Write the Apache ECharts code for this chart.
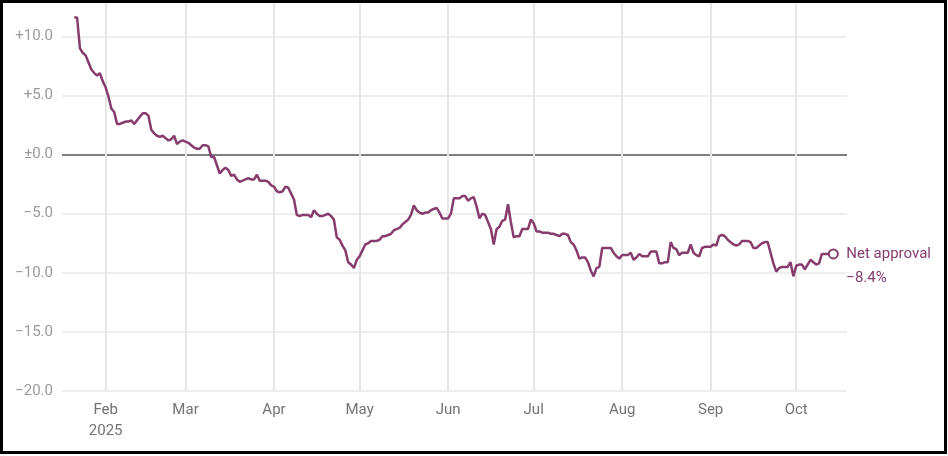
<!DOCTYPE html>
<html>
<head>
<meta charset="utf-8">
<script src="https://cdn.jsdelivr.net/npm/echarts@6/dist/echarts.min.js"></script>
<style>
  html, body { margin: 0; padding: 0; background: #fff; }
  #chart { position: absolute; left: 0; top: 0; width: 948px; height: 456px; }
  #frame { position: absolute; left: 0; top: 0; width: 947px; height: 454px; border: 3px solid #000; box-sizing: border-box; pointer-events: none; }
</style>
</head>
<body>
<div id="chart"></div>
<div id="frame"></div>
<script>
const seriesName = 'Net approval';

const dates = [
  '2025-01-21','2025-01-22','2025-01-23','2025-01-24','2025-01-25','2025-01-26','2025-01-27','2025-01-28','2025-01-29','2025-01-30','2025-01-31',
  '2025-02-01','2025-02-02','2025-02-03','2025-02-04','2025-02-05','2025-02-06','2025-02-07','2025-02-08','2025-02-09','2025-02-10','2025-02-11','2025-02-12','2025-02-13','2025-02-14','2025-02-15','2025-02-16','2025-02-17','2025-02-18','2025-02-19','2025-02-20','2025-02-21','2025-02-22','2025-02-23','2025-02-24','2025-02-25','2025-02-26','2025-02-27','2025-02-28',
  '2025-03-01','2025-03-02','2025-03-03','2025-03-04','2025-03-05','2025-03-06','2025-03-07','2025-03-08','2025-03-09','2025-03-10','2025-03-11','2025-03-12','2025-03-13','2025-03-14','2025-03-15','2025-03-16','2025-03-17','2025-03-18','2025-03-19','2025-03-20','2025-03-21','2025-03-22','2025-03-23','2025-03-24','2025-03-25','2025-03-26','2025-03-27','2025-03-28','2025-03-29','2025-03-30','2025-03-31',
  '2025-04-01','2025-04-02','2025-04-03','2025-04-04','2025-04-05','2025-04-06','2025-04-07','2025-04-08','2025-04-09','2025-04-10','2025-04-11','2025-04-12','2025-04-13','2025-04-14','2025-04-15','2025-04-16','2025-04-17','2025-04-18','2025-04-19','2025-04-20','2025-04-21','2025-04-22','2025-04-23','2025-04-24','2025-04-25','2025-04-26','2025-04-27','2025-04-28','2025-04-29','2025-04-30',
  '2025-05-01','2025-05-02','2025-05-03','2025-05-04','2025-05-05','2025-05-06','2025-05-07','2025-05-08','2025-05-09','2025-05-10','2025-05-11','2025-05-12','2025-05-13','2025-05-14','2025-05-15','2025-05-16','2025-05-17','2025-05-18','2025-05-19','2025-05-20','2025-05-21','2025-05-22','2025-05-23','2025-05-24','2025-05-25','2025-05-26','2025-05-27','2025-05-28','2025-05-29','2025-05-30','2025-05-31',
  '2025-06-01','2025-06-02','2025-06-03','2025-06-04','2025-06-05','2025-06-06','2025-06-07','2025-06-08','2025-06-09','2025-06-10','2025-06-11','2025-06-12','2025-06-13','2025-06-14','2025-06-15','2025-06-16','2025-06-17','2025-06-18','2025-06-19','2025-06-20','2025-06-21','2025-06-22','2025-06-23','2025-06-24','2025-06-25','2025-06-26','2025-06-27','2025-06-28','2025-06-29','2025-06-30',
  '2025-07-01','2025-07-02','2025-07-03','2025-07-04','2025-07-05','2025-07-06','2025-07-07','2025-07-08','2025-07-09','2025-07-10','2025-07-11','2025-07-12','2025-07-13','2025-07-14','2025-07-15','2025-07-16','2025-07-17','2025-07-18','2025-07-19','2025-07-20','2025-07-21','2025-07-22','2025-07-23','2025-07-24','2025-07-25','2025-07-26','2025-07-27','2025-07-28','2025-07-29','2025-07-30','2025-07-31',
  '2025-08-01','2025-08-02','2025-08-03','2025-08-04','2025-08-05','2025-08-06','2025-08-07','2025-08-08','2025-08-09','2025-08-10','2025-08-11','2025-08-12','2025-08-13','2025-08-14','2025-08-15','2025-08-16','2025-08-17','2025-08-18','2025-08-19','2025-08-20','2025-08-21','2025-08-22','2025-08-23','2025-08-24','2025-08-25','2025-08-26','2025-08-27','2025-08-28','2025-08-29','2025-08-30','2025-08-31',
  '2025-09-01','2025-09-02','2025-09-03','2025-09-04','2025-09-05','2025-09-06','2025-09-07','2025-09-08','2025-09-09','2025-09-10','2025-09-11','2025-09-12','2025-09-13','2025-09-14','2025-09-15','2025-09-16','2025-09-17','2025-09-18','2025-09-19','2025-09-20','2025-09-21','2025-09-22','2025-09-23','2025-09-24','2025-09-25','2025-09-26','2025-09-27','2025-09-28','2025-09-29','2025-09-30',
  '2025-10-01','2025-10-02','2025-10-03','2025-10-04','2025-10-05','2025-10-06','2025-10-07','2025-10-08','2025-10-09','2025-10-10','2025-10-11','2025-10-12','2025-10-13','2025-10-14'
];

const netApproval = [
  11.6, 11.6, 9.0, 8.6, 8.4, 7.8, 7.2, 6.9, 6.7, 6.9, 6.2,
  5.7, 4.9, 3.9, 3.6, 2.6, 2.6, 2.7, 2.8, 2.8, 2.9, 2.6, 2.9, 3.2, 3.5, 3.5, 3.3, 2.1, 1.8, 1.6, 1.5, 1.6, 1.4, 1.2, 1.3, 1.6, 0.9, 1.1, 1.2,
  1.1, 1.0, 0.8, 0.6, 0.5, 0.5, 0.8, 0.8, 0.7, -0.2, -0.2, -0.9, -1.6, -1.3, -1.1, -1.3, -1.8, -1.7, -2.1, -2.3, -2.2, -2.1, -2.0, -2.1, -2.1, -1.7, -2.2, -2.2, -2.2, -2.3, -2.6,
  -2.7, -3.1, -3.2, -3.1, -2.7, -2.8, -3.3, -3.8, -5.1, -5.2, -5.1, -5.1, -5.1, -5.3, -4.7, -5.0, -5.2, -5.2, -5.1, -5.0, -5.2, -5.5, -7.0, -7.2, -7.7, -8.1, -9.1, -9.3, -9.6, -8.9,
  -8.6, -8.1, -7.6, -7.5, -7.3, -7.3, -7.3, -7.2, -6.9, -6.9, -6.8, -6.7, -6.4, -6.3, -6.2, -5.9, -5.7, -5.5, -5.1, -4.3, -4.7, -4.9, -5.0, -4.9, -4.9, -4.7, -4.6, -4.5, -4.9, -5.4, -5.4,
  -5.4, -5.0, -3.7, -3.7, -3.7, -3.5, -3.5, -3.9, -3.7, -3.6, -4.4, -5.4, -5.0, -5.1, -5.7, -6.3, -7.6, -6.3, -6.1, -5.6, -5.5, -4.2, -5.7, -7.0, -6.9, -6.9, -6.3, -6.3, -6.3, -5.5,
  -5.8, -6.5, -6.5, -6.6, -6.6, -6.6, -6.7, -6.7, -6.8, -6.9, -6.7, -6.7, -6.8, -7.4, -7.6, -8.1, -8.8, -8.7, -8.7, -9.1, -9.8, -10.3, -9.6, -9.5, -7.9, -7.9, -7.9, -7.9, -8.3, -8.6, -8.8,
  -8.5, -8.5, -8.5, -8.3, -8.9, -8.7, -8.4, -8.6, -8.6, -8.6, -8.2, -8.2, -8.2, -9.2, -9.2, -9.1, -9.1, -7.4, -7.9, -8.0, -8.5, -8.3, -8.3, -8.3, -7.6, -8.3, -8.5, -8.6, -7.9, -7.8, -7.8,
  -7.8, -7.6, -7.7, -6.9, -6.8, -6.9, -7.2, -7.4, -7.6, -7.7, -7.6, -7.3, -7.3, -7.3, -7.4, -7.9, -7.9, -7.7, -7.5, -7.4, -7.4, -8.3, -9.2, -9.9, -9.6, -9.5, -9.5, -9.5, -9.1, -10.3,
  -9.4, -9.3, -9.3, -9.7, -9.3, -8.9, -9.1, -9.3, -9.2, -8.4, -8.4, -8.4, -8.4, -8.4
];

const monthTicks = ['2025-02-01','2025-03-01','2025-04-01','2025-05-01','2025-06-01','2025-07-01','2025-08-01','2025-09-01','2025-10-01'];
const monthLabels = ['Feb\n2025','Mar','Apr','May','Jun','Jul','Aug','Sep','Oct'];

const yTicks = [-20, -15, -10, -5, 0, 5, 10];
const yLabels = ['\u221220.0', '\u221215.0', '\u221210.0', '\u22125.0', '\u00b10.0', '+5.0', '+10.0'];

const LINE = '#873c6e';
const FONT = "Roboto, 'Liberation Sans', sans-serif";

function toTs(s) {
  const p = s.split('-').map(Number);
  return Date.UTC(p[0], p[1] - 1, p[2]);
}

const tickTs = monthTicks.map(toTs);
const data = dates.map((d, i) => {
  const item = { value: [toTs(d), netApproval[i]] };
  if (i === dates.length - 1) {
    item.symbol = 'circle';
    item.symbolSize = 9;
  }
  return item;
});

const chart = echarts.init(document.getElementById('chart'), null, { renderer: 'canvas' });
chart.setOption({
  animation: false,
  backgroundColor: 'transparent',
  grid: { left: 62, right: 101, top: 1, bottom: 65, containLabel: false },
  xAxis: {
    type: 'value',
    min: Date.UTC(2025, 0, 16, 17),
    max: Date.UTC(2025, 9, 18, 19),
    axisLine: { show: false },
    axisTick: { show: false, customValues: tickTs },
    axisLabel: {
      customValues: tickTs,
      color: '#737373',
      fontFamily: FONT,
      fontSize: 15,
      lineHeight: 21,
      margin: 9,
      formatter: function (v) {
        const i = tickTs.indexOf(v);
        return i >= 0 ? monthLabels[i] : '';
      }
    },
    splitLine: { show: true, lineStyle: { color: '#e6e6e6', width: 2 } }
  },
  yAxis: {
    type: 'value',
    min: -20,
    max: 13,
    axisLine: { show: false },
    axisTick: { show: false, customValues: yTicks },
    axisLabel: {
      customValues: yTicks,
      color: '#9a9a9a',
      fontFamily: FONT,
      fontSize: 15,
      margin: 9,
      formatter: function (v) {
        const i = yTicks.indexOf(v);
        return i >= 0 ? yLabels[i] : '';
      }
    },
    splitLine: {
      show: true,
      lineStyle: {
        color: ['#e8e8e8', '#e8e8e8', '#e8e8e8', '#e8e8e8', '#555555', '#e8e8e8', '#e8e8e8'],
        width: 1.5
      }
    }
  },
  series: [{
    name: seriesName,
    type: 'line',
    data: data,
    symbol: 'none',
    showSymbol: true,
    showAllSymbol: true,
    lineStyle: { color: LINE, width: 2.5 },
    itemStyle: { color: '#ffffff', borderColor: LINE, borderWidth: 2 },
    emphasis: { disabled: true },
    endLabel: {
      show: true,
      distance: 13,
      offset: [0, 12],
      color: LINE,
      fontFamily: FONT,
      fontSize: 15,
      lineHeight: 24,
      formatter: function (p) {
        const v = p.value[1];
        const s = (v < 0 ? '\u2212' : '+') + Math.abs(v).toFixed(1) + '%';
        return p.seriesName + '\n' + s;
      }
    }
  }]
});
</script>
</body>
</html>
